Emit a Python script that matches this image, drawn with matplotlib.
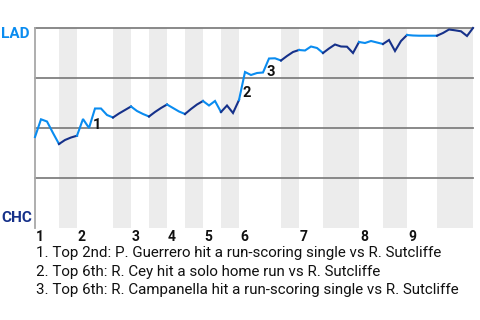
import matplotlib
matplotlib.use("Agg")
import matplotlib.pyplot as plt
import matplotlib.transforms as mtransforms

plt.rcParams['font.family'] = ['Roboto', 'DejaVu Sans']

# ---- data ----
teams = ["LAD", "CHC"]
# plate appearances per half-inning (top 1, bottom 1, top 2, ...)
half_pa = [4, 3, 6, 3, 3, 3, 3, 3, 3, 3, 7, 3, 4, 6, 4, 4, 5, 6]
innings = ["1", "2", "3", "4", "5", "6", "7", "8", "9"]
# LAD win probability after each plate appearance (index 0 = game start)
win_prob = [0.455, 0.5435, 0.5325, 0.475, 0.42, 0.44, 0.4525, 0.4615, 0.545, 0.50,
            0.5975, 0.5975, 0.565, 0.5525, 0.5725, 0.59, 0.6075, 0.585, 0.57, 0.5575,
            0.58, 0.60, 0.6175, 0.60, 0.5825, 0.57, 0.595, 0.6175, 0.635, 0.6125,
            0.635, 0.58, 0.6125, 0.575, 0.64, 0.78, 0.765, 0.775, 0.7775, 0.8475,
            0.8485, 0.8375, 0.86, 0.88, 0.89, 0.8875, 0.9075, 0.90, 0.875, 0.8975,
            0.9175, 0.9075, 0.9065, 0.875, 0.93, 0.925, 0.935, 0.9275, 0.92, 0.94,
            0.885, 0.935, 0.965, 0.9625, 0.9615, 0.9615, 0.9615, 0.9615, 0.975, 0.9925,
            0.9885, 0.9835, 0.96, 1.0]
event_pa = [10, 35, 39]
event_text = [
    "1. Top 2nd: P. Guerrero hit a run-scoring single vs R. Sutcliffe",
    "2. Top 6th: R. Cey hit a solo home run vs R. Sutcliffe",
    "3. Top 6th: R. Campanella hit a run-scoring single vs R. Sutcliffe",
]

# ---- style ----
LAD_COLOR = '#0a8cf0'
CHC_COLOR = '#16318a'
BAND = '#ececec'
GRID = '#808080'

W, H = 480, 320
fig = plt.figure(figsize=(W / 100, H / 100), dpi=100)
ax = fig.add_axes([35 / W, 1 - 228 / H, (473 - 35) / W, 200 / H])
n_pa = len(win_prob) - 1
ax.set_xlim(0, n_pa)
ax.set_ylim(0, 1)

bounds = [0]
for n in half_pa:
    bounds.append(bounds[-1] + n)

# shaded bottom halves
for h in range(1, len(half_pa), 2):
    ax.axvspan(bounds[h], bounds[h + 1], color=BAND, lw=0, zorder=0)

for g in [0.25, 0.5, 0.75, 1.0]:
    ax.axhline(g, color=GRID, lw=1.3, zorder=1, clip_on=False)

for s in ['top', 'right', 'bottom']:
    ax.spines[s].set_visible(False)
ax.spines['left'].set_color('#a8a8a8')
ax.spines['left'].set_linewidth(1.3)
ax.set_xticks([])
ax.set_yticks([])

# win probability line, coloured by half inning
xs = list(range(len(win_prob)))
for h in range(len(half_pa)):
    a, b = bounds[h], bounds[h + 1]
    ax.plot(xs[a:b + 1], win_prob[a:b + 1],
            color=LAD_COLOR if h % 2 == 0 else CHC_COLOR,
            lw=1.5, solid_joinstyle='miter', zorder=3, clip_on=False)

# event labels
for k, e in enumerate(event_pa):
    mid = (win_prob[e - 1] + win_prob[e]) / 2
    ax.text(e + 0.3, mid - 0.035, str(k + 1), fontsize=10.5, fontweight='bold',
            color='#111111', ha='center', va='center', zorder=4)

# inning labels
trans = mtransforms.blended_transform_factory(ax.transData, ax.transAxes)
for i, lab in enumerate(innings):
    ax.text(bounds[2 * i] + 0.15, -0.01, lab, transform=trans, fontsize=10,
            fontweight='bold', color='#111111', ha='left', va='top')

# team labels
fig.text(30 / W, 1 - 27 / H, teams[0], color=LAD_COLOR, fontsize=11,
         fontweight='bold', ha='right', va='top')
fig.text(32 / W, 1 - 225 / H, teams[1], color=CHC_COLOR, fontsize=11,
         fontweight='bold', ha='right', va='bottom')

# captions
for k, t in enumerate(event_text):
    fig.text(36 / W, 1 - (253.5 + 18.3 * k) / H, t, fontsize=10.9,
             color='#111111', ha='left', va='center')

fig.savefig('out.png', dpi=100)
